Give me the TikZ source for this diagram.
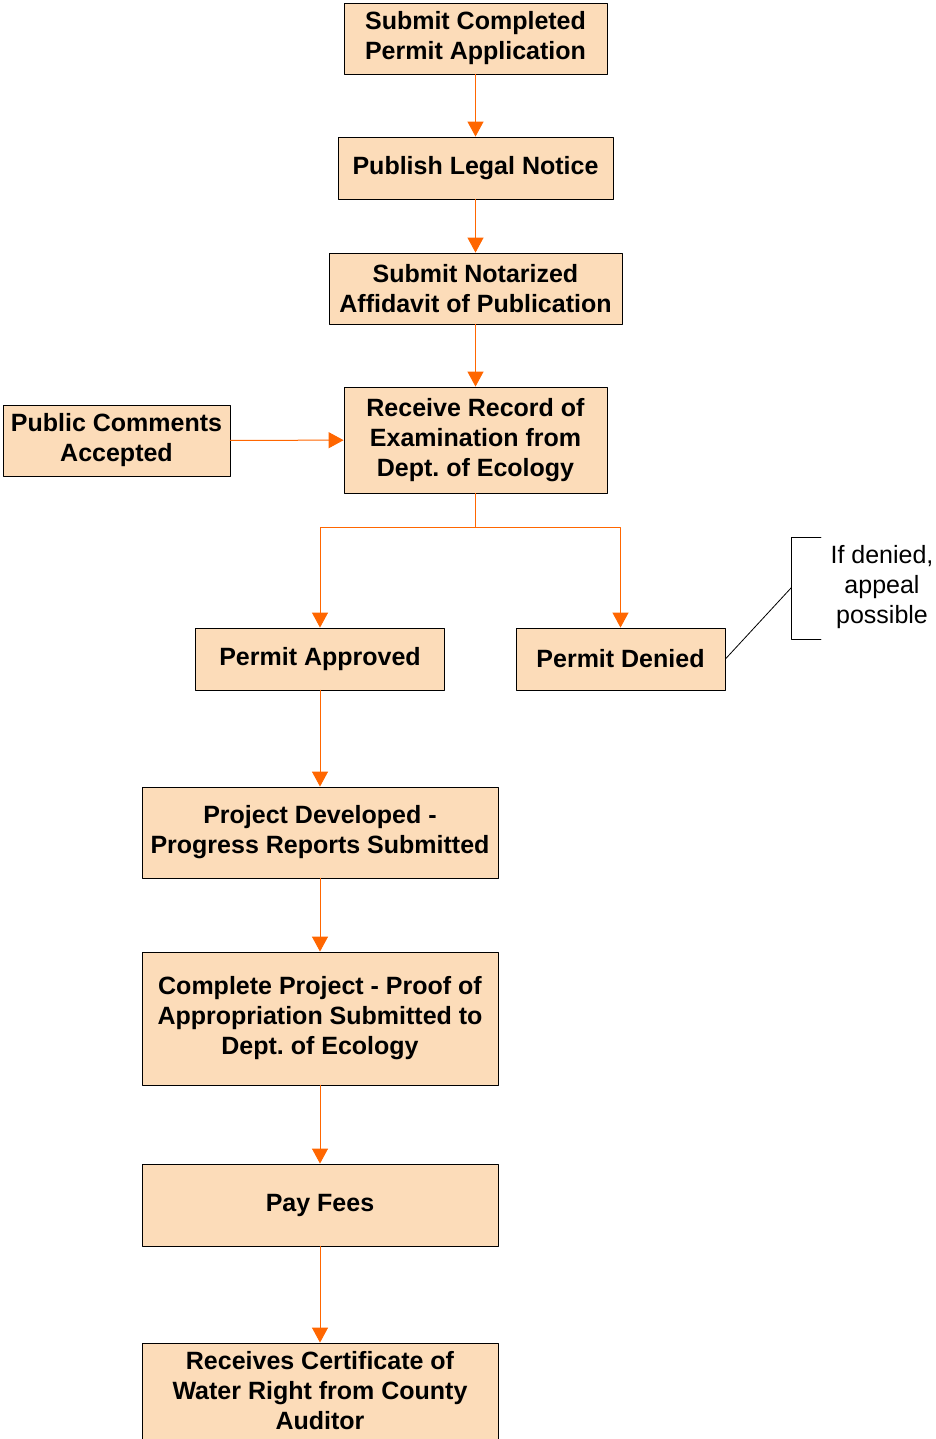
\documentclass[tikz,border=0pt]{standalone}
\usepackage{fontspec}
\setmainfont{Liberation Sans}
\frenchspacing
\usepackage{tikz}
\usetikzlibrary{calc}
\usetikzlibrary{arrows.meta}
\definecolor{fcdcb9}{rgb}{0.988,0.863,0.725}
\definecolor{ff6600}{rgb}{1.,0.4,0.}
\tikzstyle{every node}=[font=\fontsize{25}{30}\selectfont]
\tikzstyle{stepbox}=[draw=black,line width=0.8pt,fill=fcdcb9,align=center,inner sep=0pt,font=\fontsize{25}{30}\selectfont\bfseries]
\tikzstyle{flow}=[->,line width=1pt,color=ff6600]

\begin{document}
\begin{tikzpicture}[line cap=round,line join=round,>={Triangle[width=16pt,length=15pt]},x=1pt,y=-1pt]
            \useasboundingbox (0,0) rectangle (935,1439);
            \clip (0,0) rectangle (935,1439);
            \node[stepbox,minimum width=263pt,minimum height=71pt] (submit) at (475.5,38.5) {Submit Completed\\Permit Application};
            \node[stepbox,minimum width=275pt,minimum height=62pt] (notice) at (475.5,168) {Publish Legal Notice};
            \node[stepbox,minimum width=293pt,minimum height=71pt] (affidavit) at (475.5,288.5) {Submit Notarized\\Affidavit of Publication};
            \node[stepbox,minimum width=263pt,minimum height=106pt] (record) at (475.5,440) {Receive Record of\\Examination from\\Dept. of Ecology};
            \node[stepbox,minimum width=227pt,minimum height=71pt] (comments) at (116.5,440.5) {Public Comments\\Accepted};
            \node[stepbox,minimum width=249pt,minimum height=62pt] (approved) at (320,659) {Permit Approved};
            \node[stepbox,minimum width=209pt,minimum height=62pt] (denied) at (620.5,659) {Permit Denied};
            \node[stepbox,minimum width=356pt,minimum height=91pt] (developed) at (320,832.5) {Project Developed -\\Progress Reports Submitted};
            \node[stepbox,minimum width=356pt,minimum height=133pt] (complete) at (320,1018.5) {Complete Project - Proof of\\Appropriation Submitted to\\Dept. of Ecology};
            \node[stepbox,minimum width=356pt,minimum height=96pt] (certificate) at (320,1391) {Receives Certificate of\\Water Right from County\\Auditor};
            \node[stepbox,minimum width=356pt,minimum height=82pt] (fees) at (320,1205) {Pay Fees};
            \node[align=center] (appeal) at (882,587) {If denied,\\appeal\\possible};
            \coordinate (split) at (475.5,527);
            \coordinate (brtop) at (821,537);
            \coordinate (brbot) at (821,639);
            \coordinate (brmid) at (791,588);
            % flow
            \draw[flow] (submit) -- (notice);
            \draw[flow] (notice) -- (affidavit);
            \draw[flow] (affidavit) -- (record);
            \draw[flow] (comments) -- (record);
            \draw[line width=1pt,color=ff6600] (record) -- (split);
            \draw[flow] (split) -| (approved);
            \draw[flow] (split) -| (denied);
            \draw[flow] (approved) -- (developed);
            \draw[flow] (developed) -- (complete);
            \draw[flow] (complete) -- (fees);
            \draw[flow] (fees) -- (certificate);
            % note
            \draw[line width=0.8pt] (brtop) -- ++(-30,0) |- (brbot);
            \draw[line width=0.8pt] (denied.east) -- (brmid);
        \end{tikzpicture}
\end{document}
